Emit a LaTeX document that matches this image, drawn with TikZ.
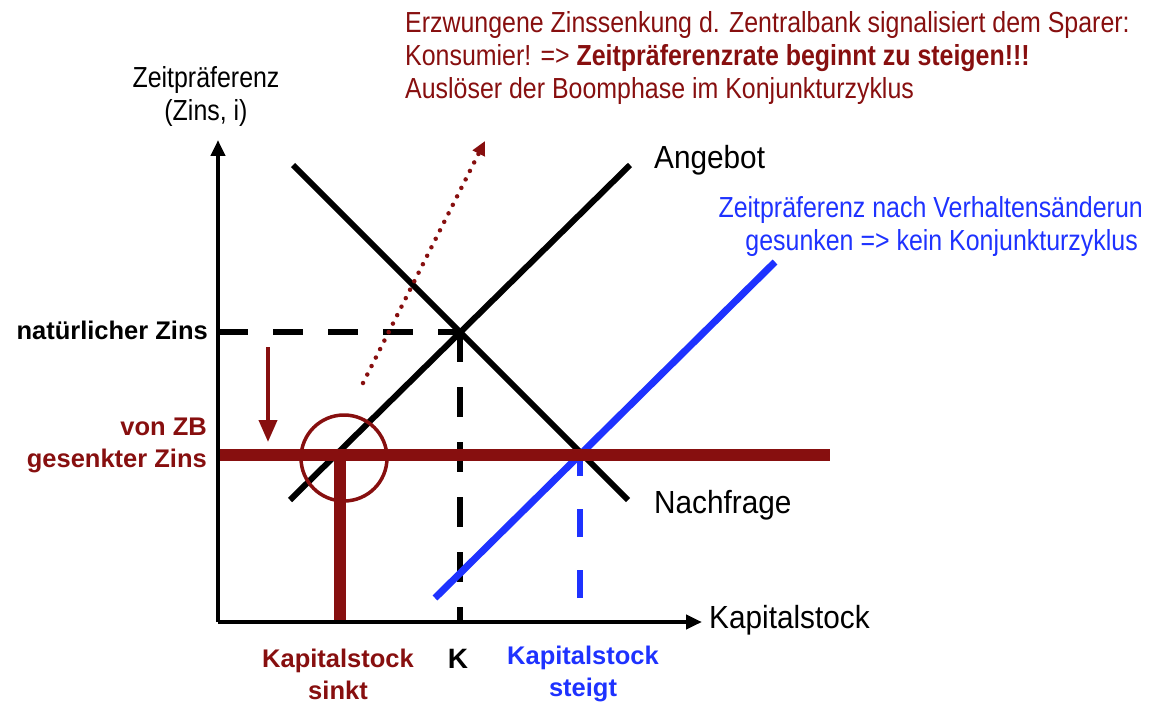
\documentclass[tikz,border=0pt]{standalone}
\usepackage{fontspec}
\setmainfont{Liberation Sans}
\newfontfamily\cond[FakeStretch=0.86]{Liberation Sans}
\newfontfamily\condb[FakeStretch=0.93]{Liberation Sans}
\usetikzlibrary{arrows.meta}
\definecolor{dred}{RGB}{135,15,15}
\definecolor{myblue}{RGB}{30,50,255}
\tikzset{
  txt/.style={font=\cond\fontsize{29}{33}\selectfont, inner sep=0pt},
  ltxt/.style={font=\condb\fontsize{32}{33}\selectfont, inner sep=0pt},
  btxt/.style={font=\bfseries\fontsize{25.5}{32}\selectfont, inner sep=0pt},
  curve/.style={line width=6pt},
  axis/.style={line width=4pt,-{Triangle[length=16pt,width=14pt]}},
  guide/.style={line width=6pt, dash pattern=on 30pt off 25pt},
}
\begin{document}
\begin{tikzpicture}[x=1pt,y=-1pt]
\useasboundingbox (0,0) rectangle (1157,706);
% coordinates
\coordinate (O) at (218,622);
\coordinate (ytop) at (218,140);
\coordinate (xend) at (702,622);
\coordinate (S1) at (290,500);
\coordinate (S2) at (630,165);
\coordinate (D1) at (293,165);
\coordinate (D2) at (628,500);
\coordinate (E) at (460,332);
\coordinate (Ey) at (218,332);
\coordinate (Ex) at (460,622);
\coordinate (Z1) at (218,455);
\coordinate (Z2) at (830,455);
\coordinate (C) at (340,455);
\coordinate (Cx) at (340,622);
\coordinate (B1) at (435,598);
\coordinate (B2) at (775,262);
\coordinate (BE) at (580,455);
\coordinate (BEx) at (580,598);
\coordinate (A1) at (268,347);
\coordinate (A2) at (268,442);
\coordinate (P1) at (363,383);
\coordinate (P2) at (485,141);

% dashed guides
\draw[guide] (Ey) -- (E);
\draw[guide] (E) -- (Ex);
\draw[myblue, line width=6pt, dash pattern=on 28pt off 33pt] (BEx) -- (BE);
% curves
\draw[curve] (S1) -- (S2);
\draw[curve] (D1) -- (D2);
\draw[myblue, line width=7pt] (B1) -- (B2);
% central bank rate
\draw[dred, line width=12pt] (Z1) -- (Z2);
\draw[dred, line width=12pt] (C) -- (Cx);
\draw[dred, line width=3.5pt] (344,458) circle (43);
\draw[dred, line width=4pt, -{Triangle[length=22pt,width=18pt]}] (A1) -- (A2);
\draw[dred, line width=4.5pt, dash pattern=on 0pt off 9.5pt, line cap=round, -{Triangle[length=14pt,width=13pt]}] (P1) -- (P2);
% axes
\draw[axis] (O) -- (ytop);
\draw[axis] (O) -- (xend);

% labels
\node[txt, align=center] (yl) at (206,96) {Zeitpräferenz\\(Zins, i)};
\node[ltxt, anchor=west] (ang) at (654,160) {Angebot};
\node[ltxt, anchor=west] (nach) at (654,505) {Nachfrage};
\node[ltxt, anchor=west] (kap) at (709,620) {Kapitalstock};
\node[btxt, anchor=east] (nat) at (208,330) {natürlicher Zins};
\node[btxt, anchor=east, align=right, text=dred] (zb) at (207,445) {von ZB\\gesenkter Zins};
\node[btxt, align=center, text=dred] (ks) at (338,674) {Kapitalstock\\sinkt};
\node[btxt, font=\bfseries\fontsize{28}{32}\selectfont] (K) at (458,659) {K};
\node[btxt, align=center, text=myblue] (kst) at (583,674) {Kapitalstock\\steigt};
\node[txt, anchor=north west, align=left, text=dred] (top) at (405,11) {Erzwungene Zinssenkung d. Zentralbank signalisiert dem Sparer:\\Konsumier! => {\bfseries Zeitpräferenzrate beginnt zu steigen!!!}\\Auslöser der Boomphase im Konjunkturzyklus};
\node[txt, anchor=north east, align=right, text=myblue] (blu) at (1143,196) {Zeitpräferenz nach Verhaltensänderun\\gesunken => kein Konjunkturzyklus\hspace*{5pt}};
\end{tikzpicture}
\end{document}
